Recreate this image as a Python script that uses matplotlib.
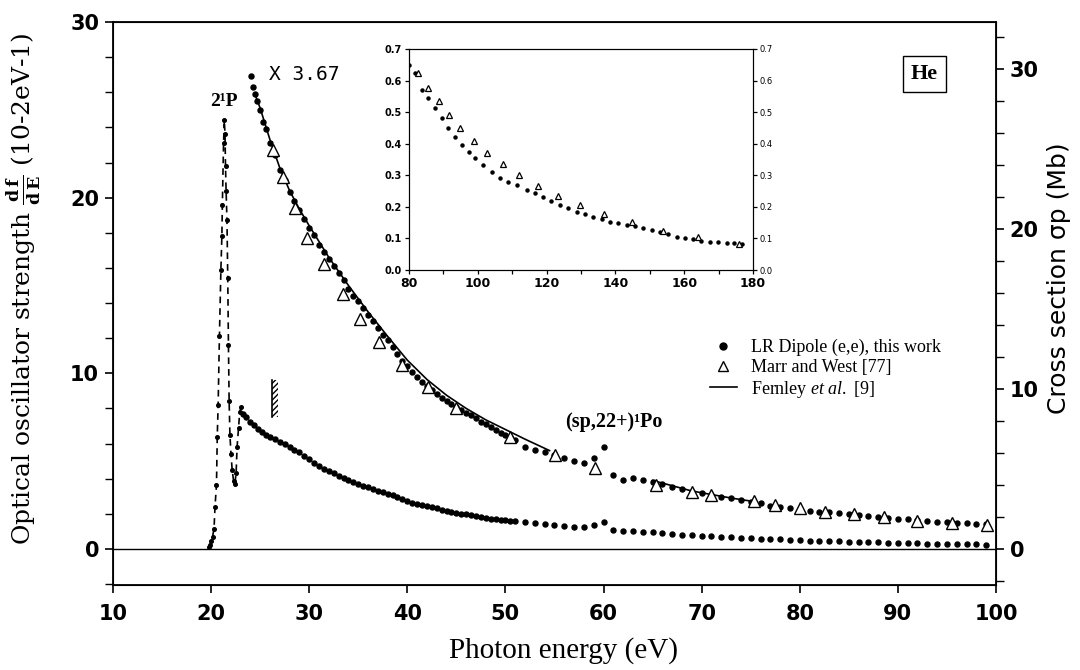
import numpy as np
import matplotlib.pyplot as plt
from matplotlib.lines import Line2D
from matplotlib.ticker import MultipleLocator, FormatStrFormatter

plt.rcParams['mathtext.fontset'] = 'custom'
plt.rcParams['mathtext.rm'] = 'Liberation Serif'
plt.rcParams['mathtext.it'] = 'Liberation Serif:italic'
plt.rcParams['mathtext.bf'] = 'DejaVu Serif:bold'

# --- valeurs (df/dE en 10^-2 eV^-1) ---
# region 2^1P (points relies en tirets)
peak_ev = [19.75, 19.9, 20.0, 20.15, 20.3, 20.4, 20.55, 20.63, 20.72, 20.85, 21.0, 21.1,
           21.15, 21.27, 21.35, 21.42, 21.47, 21.53, 21.62, 21.7, 21.77, 21.84, 21.92,
           22.03, 22.15, 22.3, 22.42, 22.55, 22.65, 22.8, 22.92, 23.08]
peak_df = [0.1, 0.25, 0.45, 0.7, 1.15, 2.4, 3.65, 6.4, 8.2, 12.1, 15.9, 17.8,
           19.6, 23.1, 24.4, 23.6, 21.8, 20.4, 18.7, 15.4, 11.6, 8.4, 6.5,
           5.4, 4.5, 3.85, 3.7, 4.3, 5.8, 6.9, 7.8, 8.1]

# continuum, echelle reelle
cont_ev = [23.3, 23.6, 24.0, 24.4, 24.8, 25.2, 25.6, 26.0, 26.5, 27.0, 27.5, 28.0, 28.5,
           29.0, 29.5, 30.0, 30.5, 31.0, 31.5, 32.0, 32.5, 33.0, 33.5, 34.0, 34.5, 35.0,
           35.5, 36.0, 36.5, 37.0, 37.5, 38.0, 38.5, 39.0, 39.5, 40.0, 40.5, 41.0, 41.5,
           42.0, 42.5, 43.0, 43.5, 44.0, 44.5, 45.0, 45.5, 46.0, 46.5, 47.0, 47.5, 48.0,
           48.5, 49.0, 49.5, 50.0, 50.5, 51.0,
           52, 53, 54, 55, 56, 57, 58, 59, 60, 61, 62, 63, 64, 65, 66, 67, 68, 69, 70,
           71, 72, 73, 74, 75, 76, 77, 78, 79, 80, 81, 82, 83, 84, 85, 86, 87, 88, 89,
           90, 91, 92, 93, 94, 95, 96, 97, 98, 99]
cont_df = [7.7, 7.5, 7.2, 7.05, 6.85, 6.65, 6.5, 6.4, 6.25, 6.1, 5.95, 5.8, 5.65,
           5.5, 5.3, 5.1, 4.9, 4.72, 4.58, 4.45, 4.3, 4.16, 4.05, 3.95, 3.83, 3.72,
           3.6, 3.5, 3.4, 3.32, 3.24, 3.15, 3.05, 2.93, 2.82, 2.72, 2.64, 2.56, 2.48,
           2.42, 2.37, 2.31, 2.24, 2.17, 2.1, 2.05, 2.01, 1.97, 1.93, 1.88, 1.83, 1.77,
           1.72, 1.69, 1.66, 1.63, 1.6, 1.58,
           1.52, 1.46, 1.42, 1.37, 1.31, 1.27, 1.27, 1.37, 1.56, 1.08, 1.02, 1.0, 0.97,
           0.95, 0.9, 0.86, 0.82, 0.79, 0.75, 0.72, 0.69, 0.67, 0.63, 0.61, 0.58, 0.57,
           0.55, 0.52, 0.51, 0.48, 0.47, 0.45, 0.43, 0.42, 0.4, 0.39, 0.37, 0.36, 0.35,
           0.34, 0.33, 0.31, 0.3, 0.29, 0.28, 0.27, 0.26, 0.25]

# meme mesure x 3.67
up_ev = [24.1, 24.3, 24.5, 24.7, 25.0, 25.3, 25.6, 26.0, 26.5, 27.0, 27.5, 28.0, 28.5,
         29.0, 29.5, 30.0, 30.5, 31.0, 31.5, 32.0, 32.5, 33.0, 33.5, 34.0, 34.5, 35.0,
         35.5, 36.0, 36.5, 37.0, 37.5, 38.0, 38.5, 39.0, 39.5, 40.0, 40.5, 41.0, 41.5,
         42.0, 42.5, 43.0, 43.5, 44.0, 44.5, 45.0, 45.5, 46.0, 46.5, 47.0, 47.5, 48.0,
         48.5, 49.0, 49.5, 50.0, 50.5, 51.0,
         52, 53, 54, 55, 56, 57, 58, 59, 60, 61, 62, 63, 64, 65, 66, 67, 68, 69, 70,
         71, 72, 73, 74, 75, 76, 77, 78, 79, 80, 81, 82, 83, 84, 85, 86, 87, 88, 89,
         90, 91, 92, 93, 94, 95, 96, 97, 98, 99]
up_df = [26.9, 26.3, 25.9, 25.5, 25.0, 24.3, 23.9, 23.1, 22.4, 21.6, 21.0, 20.3, 19.8,
         19.3, 18.8, 18.3, 17.9, 17.3, 16.9, 16.5, 16.1, 15.7, 15.3, 14.8, 14.4, 14.1,
         13.7, 13.3, 13.0, 12.6, 12.2, 11.9, 11.5, 11.1, 10.7, 10.4, 10.1, 9.8, 9.5,
         9.3, 9.05, 8.85, 8.6, 8.4, 8.25, 8.1, 7.9, 7.75, 7.6, 7.45, 7.25, 7.1,
         6.95, 6.8, 6.6, 6.5, 6.35, 6.2,
         5.82, 5.65, 5.54, 5.35, 5.16, 5.0, 4.91, 5.16, 5.82, 4.21, 3.93, 4.02, 3.93,
         3.83, 3.7, 3.55, 3.4, 3.26, 3.17, 3.07, 2.98, 2.89, 2.79, 2.69, 2.6, 2.45,
         2.37, 2.32, 2.22, 2.18, 2.12, 2.08, 2.02, 1.97, 1.92, 1.87, 1.82, 1.77, 1.72,
         1.68, 1.64, 1.6, 1.56, 1.53, 1.5, 1.47, 1.44, 1.41]

# Marr and West [77]
mw_ev = [26.3, 27.3, 28.6, 29.8, 31.5, 33.4, 35.2, 37.1, 39.5, 42.1, 45.0, 50.5, 55.1,
         59.1, 65.3, 69.0, 71.0, 75.3, 77.5, 80.0, 82.6, 85.5, 88.6, 92.0, 95.5, 99.1]
mw_df = [22.7, 21.2, 19.4, 17.7, 16.2, 14.5, 13.1, 11.8, 10.5, 9.24, 8.0, 6.39, 5.35,
         4.59, 3.64, 3.26, 3.07, 2.75, 2.5, 2.32, 2.12, 2.0, 1.8, 1.6, 1.45, 1.35]

# Fernley et al. [9]
fern_ev_a = [24.6, 25, 26, 27, 28, 29, 30, 32, 34, 36, 38, 40, 42, 44, 46, 48, 50, 52, 54.5]
fern_df_a = [25.7, 25.1, 23.3, 21.7, 20.4, 19.35, 18.4, 16.6, 15.0, 13.5, 12.1, 10.75,
             9.65, 8.75, 8.0, 7.35, 6.8, 6.25, 5.6]
fern_ev_b = [65, 67, 69, 71, 73, 75.3]
fern_df_b = [3.9, 3.6, 3.3, 3.1, 2.9, 2.7]

# seuil d'ionisation (hachure)
ip_ev = 26.5
ip_lo, ip_hi = 7.5, 9.6

# encart 80-180 eV
ins_ev = [80.1, 81.7, 83.7, 85.6, 87.6, 89.5, 91.4, 93.4, 95.3, 97.3, 99.2, 101.6, 104.0,
          106.5, 108.9, 111.3, 114.2, 116.6, 119.0, 121.4, 123.9, 126.3, 128.7, 131.2,
          133.6, 136.0, 138.4, 140.9, 143.3, 145.7, 148.1, 150.5, 153.0, 155.4, 157.8,
          160.2, 162.6, 165.0, 167.5, 169.9, 172.4, 174.6, 176.7]
ins_df = [0.649, 0.623, 0.57, 0.544, 0.512, 0.48, 0.449, 0.422, 0.396, 0.375, 0.354, 0.333,
          0.311, 0.29, 0.28, 0.269, 0.253, 0.243, 0.232, 0.219, 0.206, 0.196, 0.185, 0.177,
          0.169, 0.161, 0.153, 0.148, 0.143, 0.138, 0.132, 0.127, 0.121, 0.113, 0.105,
          0.101, 0.097, 0.093, 0.09, 0.088, 0.087, 0.085, 0.082]
ins_mw_ev = [82.7, 85.6, 88.7, 91.6, 94.9, 98.8, 102.8, 107.3, 111.9, 117.4, 123.3,
             129.7, 136.6, 144.8, 153.8, 164.0, 175.9]
ins_mw_df = [0.624, 0.576, 0.534, 0.49, 0.449, 0.41, 0.37, 0.336, 0.301, 0.267, 0.235,
             0.206, 0.176, 0.151, 0.124, 0.103, 0.082]

mb_per_unit = 1.0975   # 1 (10^-2 eV^-1) -> Mb

fig = plt.figure(figsize=(10.8, 6.7), dpi=100)
ax = fig.add_axes([0.1046, 0.1269, 0.8176, 0.8403])

ax.axhline(0, color='k', lw=1.0)
ax.plot(peak_ev, peak_df, '--', color='k', lw=1.2, dashes=(4, 3),
        marker='o', ms=2.6)
ax.plot(cont_ev, cont_df, 'o', color='k', ms=3.6)
ax.plot(up_ev, up_df, 'o', color='k', ms=3.6)
ax.plot(fern_ev_a, fern_df_a, '-', color='k', lw=1.2)
ax.plot(fern_ev_b, fern_df_b, '-', color='k', lw=1.2)
ax.plot(mw_ev, mw_df, '^', mfc='white', mec='k', mew=1.0, ms=8)
ax.fill_betweenx([ip_lo, ip_hi], ip_ev - 0.3, ip_ev + 0.3, facecolor='white',
                 edgecolor='k', hatch='//////', lw=0)
ax.plot([ip_ev - 0.3, ip_ev - 0.3], [ip_lo, ip_hi], color='k', lw=1.2)

ax.set_xlim(10, 100)
ax.set_ylim(-2.05, 30)
ax.xaxis.set_major_locator(MultipleLocator(10))
ax.yaxis.set_major_locator(MultipleLocator(10))
ax.yaxis.set_minor_locator(MultipleLocator(2))
ax.tick_params(axis='both', which='major', direction='out', length=6, width=1.2,
               labelsize=15, pad=4)
ax.tick_params(axis='y', which='minor', direction='out', length=6, width=1.0)
ax.tick_params(axis='x', which='major', pad=8)
for lab in ax.get_xticklabels() + ax.get_yticklabels():
    lab.set_fontweight('bold')
for sp in ax.spines.values():
    sp.set_linewidth(1.3)

ax.set_xlabel('Photon energy (eV)', fontsize=21, family='Liberation Serif')
ax.xaxis.set_label_coords(0.51, -0.093)
ax.set_ylabel(r'Optical oscillator strength $\mathbf{\frac{d\,f}{d\,E}}$ (10-2eV-1)',
              fontsize=18, family='DejaVu Serif')
ax.yaxis.set_label_coords(-0.079, 0.527)

ax2 = ax.twinx()
ax2.set_ylim(-2.05 * mb_per_unit, 30 * mb_per_unit)
ax2.yaxis.set_major_locator(MultipleLocator(10))
ax2.yaxis.set_minor_locator(MultipleLocator(2))
ax2.tick_params(axis='y', which='major', direction='out', length=6, width=1.2,
                labelsize=15, pad=4)
ax2.tick_params(axis='y', which='minor', direction='out', length=6, width=1.0)
for lab in ax2.get_yticklabels():
    lab.set_fontweight('bold')
ax2.set_ylabel('Cross section σp (Mb)', fontsize=18, family='DejaVu Sans')
ax2.yaxis.set_label_coords(1.058, 0.545)

ax.text(21.3, 25.0, '2¹P', fontsize=14, fontweight='bold', family='Liberation Serif',
        ha='center', va='bottom')
ax.text(25.9, 27.0, 'X 3.67', fontsize=14, family='DejaVu Sans Mono', va='center')
ax.text(61.0, 7.2, '(sp,22+)¹Po', fontsize=14.5, fontweight='bold',
        family='Liberation Serif', ha='center', va='center')
ax.text(0.919, 0.908, 'He', transform=ax.transAxes, fontsize=16, fontweight='bold',
        family='Liberation Serif', ha='center', va='center',
        bbox=dict(boxstyle='square,pad=0.35', fc='white', ec='k', lw=1.0))

handles = [Line2D([], [], ls='none', marker='o', color='k', ms=5),
           Line2D([], [], ls='none', marker='^', mfc='white', mec='k', ms=7),
           Line2D([], [], ls='-', color='k', lw=1.2)]
labels = ['LR Dipole (e,e), this work', 'Marr and West [77]',
          r'Fernley $\mathit{et\ al.}$ [9]']
ax.legend(handles, labels, loc='upper left', bbox_to_anchor=(0.676, 0.437),
          frameon=False, prop={'family': 'Liberation Serif', 'size': 13},
          handlelength=1.5, handletextpad=0.8, labelspacing=0.15, borderpad=0,
          borderaxespad=0)

# encart
ins = fig.add_axes([0.3787, 0.597, 0.3185, 0.3299])
ins.plot(ins_ev, ins_df, 'o', color='k', ms=2.2)
ins.plot(ins_mw_ev, ins_mw_df, '^', mfc='white', mec='k', mew=0.9, ms=5)
ins.set_xlim(80, 180)
ins.set_ylim(0, 0.7)
ins.xaxis.set_major_locator(MultipleLocator(20))
ins.xaxis.set_minor_locator(MultipleLocator(10))
ins.yaxis.set_major_locator(MultipleLocator(0.1))
ins.yaxis.set_major_formatter(FormatStrFormatter('%.1f'))
ins.tick_params(axis='both', which='both', direction='out', length=3, width=0.9,
                labelsize=7, pad=2)
ins.tick_params(axis='x', labelsize=9)
for lab in ins.get_xticklabels() + ins.get_yticklabels():
    lab.set_fontweight('bold')
insr = ins.twinx()
insr.set_ylim(0, 0.7)
insr.yaxis.set_major_locator(MultipleLocator(0.1))
insr.yaxis.set_major_formatter(FormatStrFormatter('%.1f'))
insr.tick_params(axis='y', direction='out', length=3, width=0.9, labelsize=6, pad=2)

fig.savefig('out.png', dpi=100)
